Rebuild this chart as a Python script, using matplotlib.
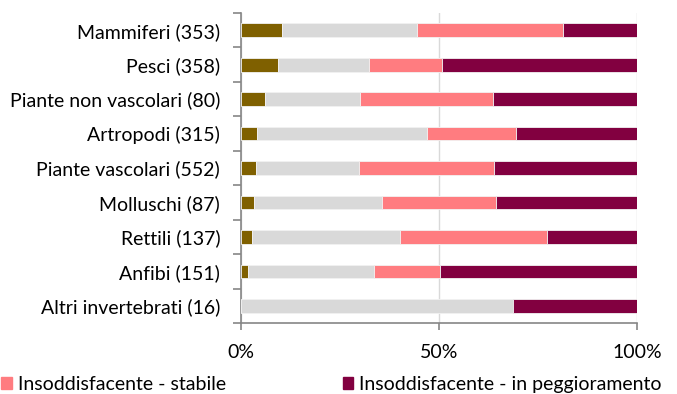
import numpy as np
import matplotlib.pyplot as plt
from matplotlib.patches import Patch
from matplotlib.ticker import FixedLocator

plt.rcParams['font.family'] = ['Lato', 'DejaVu Sans']

# categorie (dall'alto verso il basso) e quote cumulative per stato di conservazione
categorie = ["Mammiferi (353)", "Pesci (358)", "Piante non vascolari (80)",
             "Artropodi (315)", "Piante vascolari (552)", "Molluschi (87)",
             "Rettili (137)", "Anfibi (151)", "Altri invertebrati (16)"]
favorevole = [10.4, 9.4, 6.1, 4.1, 3.9, 3.3, 2.8, 1.8, 0.0]
sconosciuto = [34.1, 23.0, 23.9, 42.9, 26.0, 32.3, 37.3, 31.9, 68.75]
insodd_stabile = [36.8, 18.4, 33.7, 22.5, 33.9, 28.8, 37.2, 16.6, 0.0]
insodd_peggiora = [18.7, 49.2, 36.3, 30.5, 36.2, 35.6, 22.7, 49.7, 31.25]

colori = ["#7f6000", "#d9d9d9", "#ff7c80", "#820040"]
fs = 14

fig = plt.figure(figsize=(6.77, 3.94), dpi=100)
ax = fig.add_axes([0.356, 0.180, 0.585, 0.787])

y = np.arange(len(categorie))[::-1]
serie = [favorevole, sconosciuto, insodd_stabile, insodd_peggiora]
left = np.zeros(len(categorie))
for vals, col in zip(serie, colori):
    vals = np.array(vals)
    ax.barh(y, vals, left=left, height=0.4, color=col,
            edgecolor="#f2f2f2", linewidth=0.6, zorder=3)
    left += vals

ax.set_xlim(0, 100)
ax.set_ylim(-0.5, len(categorie) - 0.5)
ax.set_xticks([0, 50, 100])
ax.set_xticklabels(["0%", "50%", "100%"], fontsize=fs)
ax.set_yticks(y)
ax.set_yticklabels(categorie, fontsize=fs)
ax.yaxis.set_minor_locator(FixedLocator(np.arange(-0.5, len(categorie), 1)))
ax.tick_params(axis='y', which='major', length=0, pad=15)
ax.tick_params(axis='y', which='minor', length=6, color="#868686", width=1.2)
ax.tick_params(axis='x', length=5, color="#868686", width=1.2, pad=10)

ax.grid(axis='x', color="#d9d9d9", linewidth=1, zorder=0)
for s in ["top", "right"]:
    ax.spines[s].set_visible(False)
for s in ["left", "bottom"]:
    ax.spines[s].set_color("#868686")
    ax.spines[s].set_linewidth(1.2)

handles = [Patch(color=colori[2], label="Insoddisfacente - stabile"),
           Patch(color=colori[3], label="Insoddisfacente - in peggioramento")]
fig.legend(handles=handles, loc='center left', bbox_to_anchor=(-0.024, 0.024),
           ncol=2, frameon=False, fontsize=fs, handlelength=0.55,
           handleheight=0.55, handletextpad=0.3, columnspacing=6.0)

fig.savefig("out.png", dpi=100)
